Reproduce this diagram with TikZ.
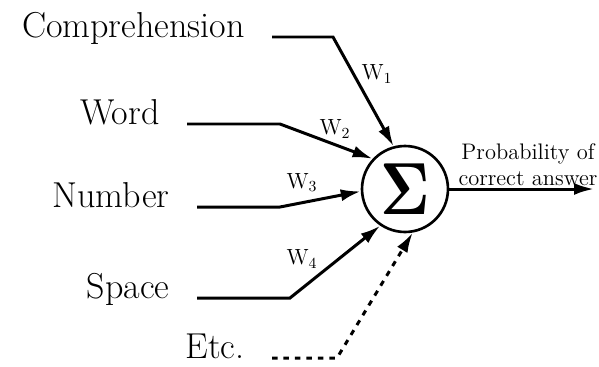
\documentclass[tikz,border=0pt]{standalone}
\usepackage{graphicx}
\usepackage{tikz}
\usetikzlibrary{arrows.meta,positioning,calc}
\tikzset{
  lbl/.style={anchor=base east,inner xsep=0.55cm,inner ysep=0pt,outer sep=0pt,font=\fontsize{20.5}{24}\selectfont},
  wt/.style={font=\fontsize{12.5}{14}\selectfont,inner sep=0pt},
  sumc/.style={draw,circle,line width=1.5pt,minimum size=1.72cm,inner sep=0pt},
  arr/.style={-{Latex[length=4mm,width=2.4mm]},line width=1.7pt},
  dotarr/.style={arr,dash pattern=on 1.1mm off 1.2mm},
}

\begin{document}
\begin{tikzpicture}[x=0.02cm,y=-0.02cm]
\useasboundingbox (0,0) rectangle (599,366);
\node[sumc] (sum) at (405,189) {\scalebox{3.4}[4.2]{$\mathbf{\Sigma}$}};
\node[lbl] (comp) at (272,37) {Comprehension};
\node[lbl] (word) at (187,124) {Word};
\node[lbl] (num) at (197,207) {Number};
\node[lbl] (space) at (197,298) {Space};
\node[lbl] (etc) at (272,358) {Etc.};
\coordinate (out) at (594,189);
\node[font=\fontsize{12.8}{15}\selectfont,align=center,inner sep=0pt] (prob) at (528,165) {Probability of\\correct answer};
% inputs
\draw[arr] (comp.base east) -- (333,37) -- (sum.105);
\draw[arr] (word.base east) -- (280,124) -- (sum.137);
\draw[arr] (num.base east) -- (280,207) -- (sum.183);
\draw[arr] (space.base east) -- (290,298) -- (sum.236);
\draw[dotarr] (etc.base east) -- (337,358) -- (sum.280);
\draw[arr] (sum.east) -- (out);
% weights
\node[wt] (w1) at (377,74) {W\textsubscript{1}};
\node[wt] (w2) at (335,129) {W\textsubscript{2}};
\node[wt] (w3) at (302,183) {W\textsubscript{3}};
\node[wt] (w4) at (302,259) {W\textsubscript{4}};
\end{tikzpicture}
\end{document}
